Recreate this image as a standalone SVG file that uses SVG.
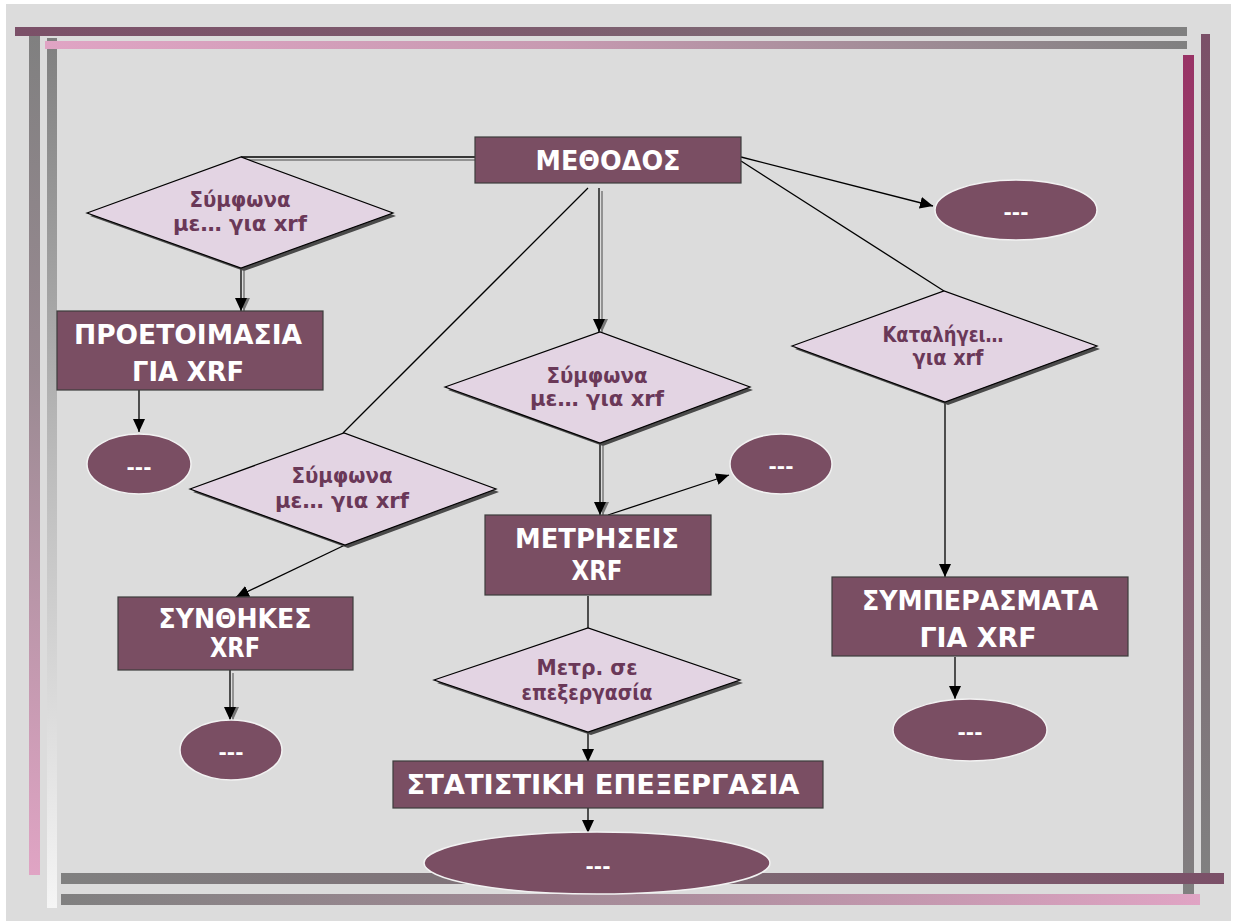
<svg xmlns="http://www.w3.org/2000/svg" width="1234" height="921" viewBox="0 0 1234 921">
  <defs>
    <linearGradient id="gTop1" x1="0" y1="0" x2="1" y2="0">
      <stop offset="0" stop-color="#7B5068"/>
      <stop offset="0.45" stop-color="#7D5C6E"/>
      <stop offset="1" stop-color="#808080"/>
    </linearGradient>
    <linearGradient id="gTop2" x1="0" y1="0" x2="1" y2="0">
      <stop offset="0" stop-color="#E0A4C4"/>
      <stop offset="0.45" stop-color="#C79AB1"/>
      <stop offset="1" stop-color="#808080"/>
    </linearGradient>
    <linearGradient id="gLeft1" x1="0" y1="0" x2="0" y2="1">
      <stop offset="0" stop-color="#808080"/>
      <stop offset="0.4" stop-color="#9A8A92"/>
      <stop offset="1" stop-color="#E0A4C4"/>
    </linearGradient>
    <linearGradient id="gLeft2" x1="0" y1="0" x2="0" y2="1">
      <stop offset="0" stop-color="#808080"/>
      <stop offset="0.5" stop-color="#BDBDBD"/>
      <stop offset="1" stop-color="#F5F5F5"/>
    </linearGradient>
    <linearGradient id="gRight1" x1="0" y1="0" x2="0" y2="1">
      <stop offset="0" stop-color="#993366"/>
      <stop offset="0.55" stop-color="#8A5A72"/>
      <stop offset="1" stop-color="#808080"/>
    </linearGradient>
    <linearGradient id="gRight2" x1="0" y1="0" x2="0" y2="1">
      <stop offset="0" stop-color="#7B5068"/>
      <stop offset="0.55" stop-color="#7E6A74"/>
      <stop offset="1" stop-color="#808080"/>
    </linearGradient>
    <linearGradient id="gBot1" x1="0" y1="0" x2="1" y2="0">
      <stop offset="0" stop-color="#808080"/>
      <stop offset="0.55" stop-color="#7E6A74"/>
      <stop offset="1" stop-color="#7B5068"/>
    </linearGradient>
    <linearGradient id="gBot2" x1="0" y1="0" x2="1" y2="0">
      <stop offset="0" stop-color="#808080"/>
      <stop offset="0.5" stop-color="#A88C9A"/>
      <stop offset="1" stop-color="#E0A4C4"/>
    </linearGradient>
    <marker id="arrow" markerUnits="userSpaceOnUse" markerWidth="14" markerHeight="12" refX="13" refY="6" orient="auto">
      <path d="M0,0 L13,6 L0,12 z" fill="#000"/>
    </marker>
    <marker id="arrowSh" markerUnits="userSpaceOnUse" markerWidth="14" markerHeight="12" refX="13" refY="6" orient="auto">
      <path d="M0,0 L13,6 L0,12 z" fill="#777"/>
    </marker>
  </defs>
  <style>
    .box{fill:#7A4E63;stroke:#3C3C3C;stroke-width:1.2}
    .dia{fill:#E3D4E3;stroke:#000;stroke-width:1.2}
    .dsh{fill:#4A4A4A}
    .ell{fill:#7A4E63;stroke:#F2F2F2;stroke-width:1.5}
    .bt{font-family:"DejaVu Sans","Liberation Sans",sans-serif;font-weight:bold;font-size:27px;fill:#FFFFFF;text-anchor:middle}
    .dt{font-family:"DejaVu Sans","Liberation Sans",sans-serif;font-weight:bold;font-size:21px;fill:#6A3858;text-anchor:middle}
    .et{font-family:"DejaVu Sans","Liberation Sans",sans-serif;font-weight:bold;font-size:20px;fill:#FFFFFF;text-anchor:middle}
    .ln{stroke:#000;stroke-width:1.3;fill:none}
    .sh{stroke:#7A7A7A;stroke-width:1.5;fill:none}
  </style>

  <!-- page background -->
  <rect x="0" y="0" width="1234" height="921" fill="#FFFFFF"/>
  <rect x="6" y="4" width="1225" height="917" fill="#DCDCDC"/>

  <!-- frame bars -->
  <g id="frame">
    <rect x="29" y="36" width="11" height="839" fill="url(#gLeft1)"/>
    <rect x="47" y="38" width="10" height="870" fill="url(#gLeft2)"/>
    <rect x="15" y="27" width="1172" height="9" fill="url(#gTop1)"/>
    <rect x="45" y="41" width="1142" height="8" fill="url(#gTop2)"/>
    <rect x="1183" y="55" width="11" height="839" fill="url(#gRight1)"/>
    <rect x="1201" y="34" width="9" height="839" fill="url(#gRight2)"/>
    <rect x="61" y="873" width="1163" height="11" fill="url(#gBot1)"/>
    <rect x="61" y="894" width="1139" height="11" fill="url(#gBot2)"/>
  </g>

  <!-- connectors -->
  <g id="connectors">
    <!-- shadowed connectors -->
    <line class="sh" x1="244" y1="160" x2="475" y2="160"/>
    <line class="ln" x1="241" y1="157" x2="475" y2="157"/>

    <line class="sh" x1="244" y1="271" x2="244" y2="311" marker-end="url(#arrowSh)"/>
    <line class="ln" x1="241" y1="268" x2="241" y2="311" marker-end="url(#arrow)"/>

    <line class="sh" x1="602" y1="191" x2="602" y2="332" marker-end="url(#arrowSh)"/>
    <line class="ln" x1="599" y1="188" x2="599" y2="332" marker-end="url(#arrow)"/>

    <line class="sh" x1="603" y1="446" x2="603" y2="515" marker-end="url(#arrowSh)"/>
    <line class="ln" x1="600" y1="443" x2="600" y2="515" marker-end="url(#arrow)"/>

    <line class="sh" x1="233" y1="673" x2="233" y2="720" marker-end="url(#arrowSh)"/>
    <line class="ln" x1="230" y1="670" x2="230" y2="720" marker-end="url(#arrow)"/>

    <!-- plain connectors -->
    <line class="ln" x1="139" y1="390" x2="139" y2="432" marker-end="url(#arrow)"/>
    <line class="ln" x1="588" y1="188" x2="343" y2="433"/>
    <line class="ln" x1="608" y1="515" x2="729" y2="475" marker-end="url(#arrow)"/>
    <line class="ln" x1="345" y1="545" x2="236" y2="597" marker-end="url(#arrow)"/>
    <line class="ln" x1="588" y1="596" x2="588" y2="628"/>
    <line class="ln" x1="588" y1="732" x2="588" y2="762" marker-end="url(#arrow)"/>
    <line class="ln" x1="588" y1="802" x2="588" y2="833" marker-end="url(#arrow)"/>
    <line class="ln" x1="741" y1="157" x2="933" y2="206" marker-end="url(#arrow)"/>
    <line class="ln" x1="741" y1="161" x2="944" y2="291"/>
    <line class="ln" x1="945" y1="402" x2="945" y2="577" marker-end="url(#arrow)"/>
    <line class="ln" x1="955" y1="657" x2="955" y2="699" marker-end="url(#arrow)"/>
  </g>

  <!-- nodes -->
  <g id="methodos">
    <rect class="box" x="475" y="137" width="266" height="46"/>
    <text class="bt" x="608" y="170" textLength="145" lengthAdjust="spacingAndGlyphs">ΜΕΘΟΔΟΣ</text>
  </g>

  <g id="decision-left">
    <polygon class="dsh" points="90,216 244,160 396,216 244,271"/>
    <polygon class="dia" points="87,213 241,157 393,213 241,268"/>
    <text class="dt" x="240" y="207" textLength="101" lengthAdjust="spacingAndGlyphs">Σύμφωνα</text>
    <text class="dt" x="240" y="231" textLength="134" lengthAdjust="spacingAndGlyphs">με… για xrf</text>
  </g>

  <g id="proetoimasia">
    <rect class="box" x="57" y="311" width="266" height="79"/>
    <text class="bt" x="188" y="344" textLength="228" lengthAdjust="spacingAndGlyphs">ΠΡΟΕΤΟΙΜΑΣΙΑ</text>
    <text class="bt" x="188" y="381" textLength="112" lengthAdjust="spacingAndGlyphs">ΓΙΑ XRF</text>
  </g>

  <g id="end-proetoimasia">
    <ellipse class="ell" cx="139" cy="464" rx="52" ry="30"/>
    <text class="et" x="139" y="474">---</text>
  </g>

  <g id="decision-middle">
    <polygon class="dsh" points="448,390 603,335 753,390 603,446"/>
    <polygon class="dia" points="445,387 600,332 750,387 600,443"/>
    <text class="dt" x="597" y="383" textLength="101" lengthAdjust="spacingAndGlyphs">Σύμφωνα</text>
    <text class="dt" x="597" y="406" textLength="134" lengthAdjust="spacingAndGlyphs">με… για xrf</text>
  </g>

  <g id="end-metriseis">
    <ellipse class="ell" cx="781" cy="464" rx="51" ry="30"/>
    <text class="et" x="781" y="473">---</text>
  </g>

  <g id="metriseis">
    <rect class="box" x="485" y="515" width="226" height="80"/>
    <text class="bt" x="597" y="548" textLength="164" lengthAdjust="spacingAndGlyphs">ΜΕΤΡΗΣΕΙΣ</text>
    <text class="bt" x="597" y="580" textLength="51" lengthAdjust="spacingAndGlyphs">XRF</text>
  </g>

  <g id="decision-lower-left">
    <polygon class="dsh" points="193,492 347,436 499,492 348,548"/>
    <polygon class="dia" points="190,489 344,433 496,489 345,545"/>
    <text class="dt" x="342" y="483" textLength="101" lengthAdjust="spacingAndGlyphs">Σύμφωνα</text>
    <text class="dt" x="342" y="508" textLength="134" lengthAdjust="spacingAndGlyphs">με… για xrf</text>
  </g>

  <g id="synthikes">
    <rect class="box" x="118" y="597" width="235" height="73"/>
    <text class="bt" x="235" y="628" textLength="153" lengthAdjust="spacingAndGlyphs">ΣΥΝΘΗΚΕΣ</text>
    <text class="bt" x="235" y="657" textLength="50" lengthAdjust="spacingAndGlyphs">XRF</text>
  </g>

  <g id="end-synthikes">
    <ellipse class="ell" cx="231" cy="750" rx="51" ry="30"/>
    <text class="et" x="231" y="759">---</text>
  </g>

  <g id="end-methodos">
    <ellipse class="ell" cx="1016" cy="210" rx="81" ry="30"/>
    <text class="et" x="1016" y="219">---</text>
  </g>

  <g id="decision-right">
    <polygon class="dsh" points="795,349 947,294 1100,349 948,405"/>
    <polygon class="dia" points="792,346 944,291 1097,346 945,402"/>
    <text class="dt" x="943" y="342" textLength="121" lengthAdjust="spacingAndGlyphs">Καταλήγει…</text>
    <text class="dt" x="948" y="365" textLength="71" lengthAdjust="spacingAndGlyphs">για xrf</text>
  </g>

  <g id="symperasmata">
    <rect class="box" x="832" y="577" width="296" height="79"/>
    <text class="bt" x="980" y="610" textLength="236" lengthAdjust="spacingAndGlyphs">ΣΥΜΠΕΡΑΣΜΑΤΑ</text>
    <text class="bt" x="978" y="647" textLength="117" lengthAdjust="spacingAndGlyphs">ΓΙΑ XRF</text>
  </g>

  <g id="end-symperasmata">
    <ellipse class="ell" cx="970" cy="730" rx="77" ry="31"/>
    <text class="et" x="970" y="739">---</text>
  </g>

  <g id="decision-processing">
    <polygon class="dsh" points="437,683 591,631 743,683 591,735"/>
    <polygon class="dia" points="434,680 588,628 740,680 588,732"/>
    <text class="dt" x="587" y="675" textLength="101" lengthAdjust="spacingAndGlyphs">Μετρ. σε</text>
    <text class="dt" x="587" y="700" textLength="131" lengthAdjust="spacingAndGlyphs">επεξεργασία</text>
  </g>

  <g id="statistiki">
    <rect class="box" x="393" y="761" width="430" height="47"/>
    <text class="bt" x="603" y="794" textLength="393" lengthAdjust="spacingAndGlyphs">ΣΤΑΤΙΣΤΙΚΗ ΕΠΕΞΕΡΓΑΣΙΑ</text>
  </g>

  <g id="end-statistiki">
    <ellipse class="ell" cx="597" cy="863" rx="173" ry="31"/>
    <text class="et" x="598" y="873">---</text>
  </g>
</svg>
